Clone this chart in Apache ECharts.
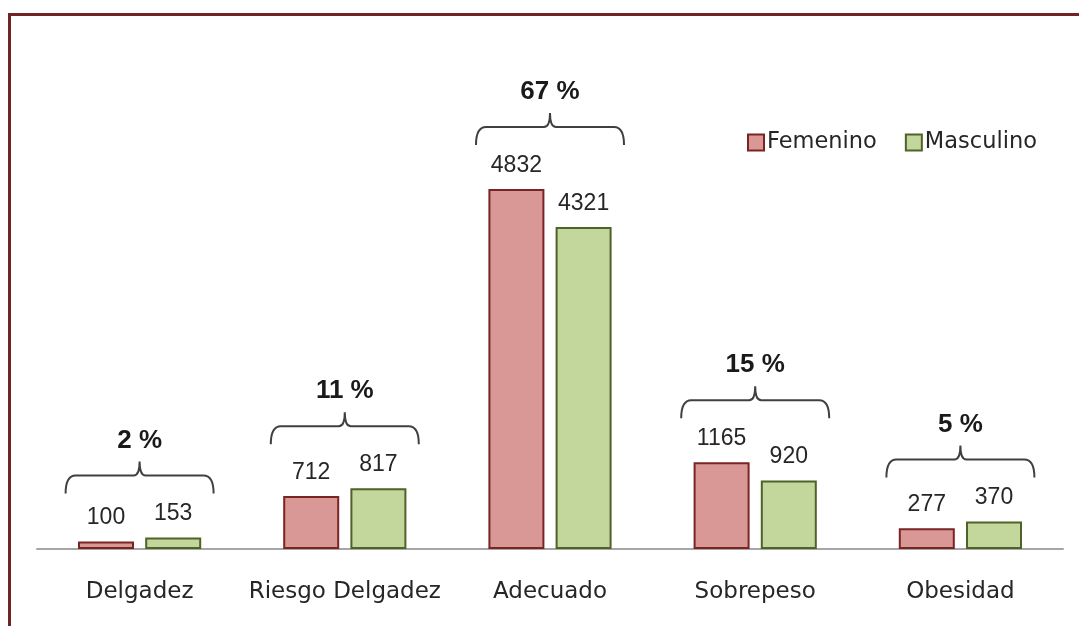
<!DOCTYPE html>
<html>
<head>
<meta charset="utf-8">
<script src="https://cdn.jsdelivr.net/npm/echarts@6/dist/echarts.min.js"></script>
<style>
  html, body { margin: 0; padding: 0; background: #fff; }
  #chart { width: 1079px; height: 626px; }
</style>
</head>
<body>
<div id="chart"></div>
<script>
var categories = ['Delgadez', 'Riesgo Delgadez', 'Adecuado', 'Sobrepeso', 'Obesidad'];
var femenino = [100, 712, 4832, 1165, 277];
var masculino = [153, 817, 4321, 920, 370];

// porcentaje de cada categoria sobre el total
var total = 0;
for (var i = 0; i < categories.length; i++) total += femenino[i] + masculino[i];
var brackets = categories.map(function (c, i) {
    return [i, Math.max(femenino[i], masculino[i]), Math.round((femenino[i] + masculino[i]) / total * 100) + ' %'];
});

var font = 'Liberation Sans, Arial, sans-serif';
var wideFont = 'DejaVu Sans, sans-serif';
var chart = echarts.init(document.getElementById('chart'));

var option = {
    animation: false,
    graphic: [{
        type: 'rect',
        shape: { x: 9.5, y: 14.5, width: 2000, height: 2000 },
        style: { fill: 'none', stroke: '#722323', lineWidth: 3 },
        silent: true
    }],
    legend: {
        data: ['Femenino', 'Masculino'],
        left: 742,
        top: 126,
        icon: 'rect',
        itemWidth: 16,
        itemHeight: 16,
        itemGap: 28,
        textStyle: { fontFamily: wideFont, fontSize: 22.5, color: '#262626', padding: [0, 0, 0, -2] }
    },
    grid: { left: 37, right: 16, top: 102, bottom: 77 },
    xAxis: {
        type: 'category',
        data: categories,
        axisTick: { show: false },
        axisLine: { lineStyle: { color: '#A6A6A6', width: 2 } },
        axisLabel: { interval: 0, margin: 32, fontFamily: wideFont, fontSize: 23, color: '#262626' }
    },
    yAxis: {
        type: 'value',
        min: 0,
        max: 6000,
        show: false,
        splitLine: { show: false }
    },
    series: [
        {
            name: 'Femenino',
            type: 'bar',
            data: femenino,
            barWidth: 56,
            barGap: '20%',
            itemStyle: { color: '#D99795', borderColor: '#7B2424', borderWidth: 2 },
            label: { show: true, position: 'top', distance: 12, fontFamily: font, fontSize: 23, color: '#262626' }
        },
        {
            name: 'Masculino',
            type: 'bar',
            data: masculino,
            barWidth: 56,
            itemStyle: { color: '#C3D69B', borderColor: '#4F6228', borderWidth: 2 },
            label: { show: true, position: 'top', distance: 12, fontFamily: font, fontSize: 23, color: '#262626' }
        },
        {
            type: 'custom',
            data: brackets,
            encode: { x: 0, y: 1 },
            silent: true,
            z: 5,
            renderItem: function (params, api) {
                var p = api.coord([api.value(0), api.value(1)]);
                var cx = p[0];
                var yh = p[1] - 62;
                var yEnd = yh + 18;
                var yTip = yh - 14;
                var L = cx - 74, R = cx + 74;
                var d = 'M' + L + ',' + yEnd +
                    ' Q' + L + ',' + yh + ' ' + (L + 10) + ',' + yh +
                    ' L' + (cx - 6) + ',' + yh +
                    ' Q' + cx + ',' + yh + ' ' + cx + ',' + yTip +
                    ' Q' + cx + ',' + yh + ' ' + (cx + 6) + ',' + yh +
                    ' L' + (R - 10) + ',' + yh +
                    ' Q' + R + ',' + yh + ' ' + R + ',' + yEnd;
                return {
                    type: 'group',
                    children: [{
                        type: 'path',
                        shape: { pathData: d },
                        style: { fill: 'none', stroke: '#404040', lineWidth: 2 }
                    }, {
                        type: 'text',
                        style: {
                            text: brackets[params.dataIndex][2],
                            x: cx,
                            y: yTip - 21,
                            align: 'center',
                            verticalAlign: 'middle',
                            font: 'bold 26px ' + font,
                            fill: '#1a1a1a'
                        }
                    }]
                };
            }
        }
    ]
};
chart.setOption(option);
</script>
</body>
</html>
